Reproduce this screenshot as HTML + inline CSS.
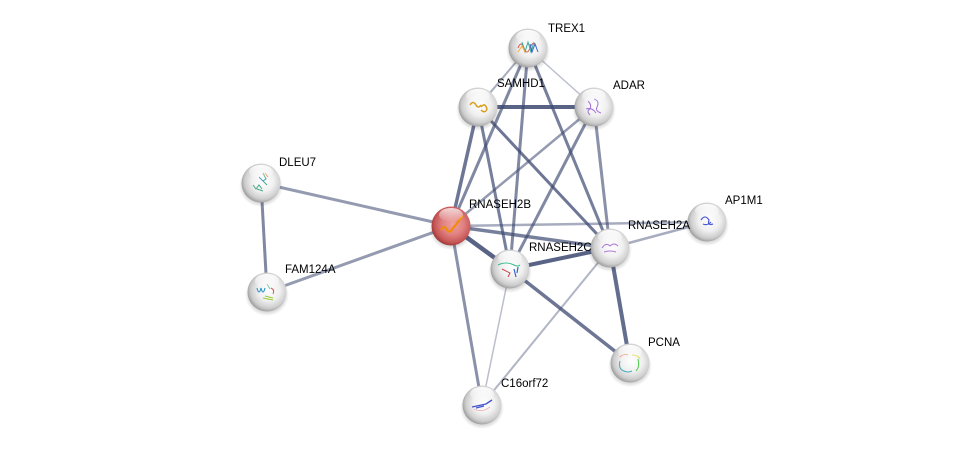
<!DOCTYPE html>
<html><head><meta charset="utf-8"><style>
html,body{margin:0;padding:0;background:#fff;}
svg{display:block;}
text{font-family:"Liberation Sans",sans-serif;font-size:11.5px;fill:#000;}
</style></head><body>
<svg width="975" height="450" viewBox="0 0 975 450" xmlns="http://www.w3.org/2000/svg">
<defs>
<radialGradient id="g" cx="0.55" cy="0.45" r="0.62">
<stop offset="0" stop-color="#ffffff"/>
<stop offset="0.45" stop-color="#f0f0f0"/>
<stop offset="0.75" stop-color="#cdcdcd"/>
<stop offset="0.92" stop-color="#9a9a9a"/>
<stop offset="1" stop-color="#6e6e6e"/>
</radialGradient>
<radialGradient id="r" cx="0.55" cy="0.45" r="0.62">
<stop offset="0" stop-color="#f0a0a0"/>
<stop offset="0.45" stop-color="#e08080"/>
<stop offset="0.75" stop-color="#c85858"/>
<stop offset="0.92" stop-color="#9c3535"/>
<stop offset="1" stop-color="#6a1e1e"/>
</radialGradient>
<linearGradient id="hl" x1="0" y1="0" x2="0" y2="1">
<stop offset="0" stop-color="#fff" stop-opacity="0.95"/>
<stop offset="1" stop-color="#fff" stop-opacity="0"/>
</linearGradient>
<radialGradient id="sh" cx="0.5" cy="0.5" r="0.5">
<stop offset="0.6" stop-color="#000" stop-opacity="0.3"/>
<stop offset="1" stop-color="#000" stop-opacity="0"/>
</radialGradient>
</defs>
<g stroke="#3c4870" stroke-linecap="butt" fill="none">
<line x1="478" y1="107" x2="594" y2="107" stroke-width="4" stroke-opacity="0.85"/>
<line x1="528" y1="48" x2="478" y2="107" stroke-width="2" stroke-opacity="0.45"/>
<line x1="528" y1="48" x2="594" y2="107" stroke-width="1.5" stroke-opacity="0.35"/>
<line x1="528" y1="48" x2="451" y2="226" stroke-width="3" stroke-opacity="0.65"/>
<line x1="528" y1="48" x2="510" y2="269" stroke-width="3" stroke-opacity="0.65"/>
<line x1="528" y1="48" x2="610" y2="248" stroke-width="3" stroke-opacity="0.7"/>
<line x1="478" y1="107" x2="451" y2="226" stroke-width="3.5" stroke-opacity="0.75"/>
<line x1="478" y1="107" x2="510" y2="269" stroke-width="3" stroke-opacity="0.7"/>
<line x1="478" y1="107" x2="610" y2="248" stroke-width="3" stroke-opacity="0.75"/>
<line x1="594" y1="107" x2="451" y2="226" stroke-width="2.5" stroke-opacity="0.55"/>
<line x1="594" y1="107" x2="510" y2="269" stroke-width="3" stroke-opacity="0.65"/>
<line x1="594" y1="107" x2="610" y2="248" stroke-width="3" stroke-opacity="0.6"/>
<line x1="451" y1="226" x2="261" y2="183" stroke-width="3" stroke-opacity="0.55"/>
<line x1="451" y1="226" x2="267" y2="292" stroke-width="3" stroke-opacity="0.55"/>
<line x1="261" y1="183" x2="267" y2="292" stroke-width="3" stroke-opacity="0.65"/>
<line x1="451" y1="226" x2="510" y2="269" stroke-width="4.5" stroke-opacity="0.85"/>
<line x1="451" y1="226" x2="610" y2="248" stroke-width="3.5" stroke-opacity="0.7"/>
<line x1="451" y1="226" x2="707" y2="222" stroke-width="2.5" stroke-opacity="0.45"/>
<line x1="451" y1="226" x2="482" y2="405" stroke-width="3" stroke-opacity="0.6"/>
<line x1="510" y1="269" x2="610" y2="248" stroke-width="4" stroke-opacity="0.85"/>
<line x1="510" y1="269" x2="630" y2="363" stroke-width="3.5" stroke-opacity="0.75"/>
<line x1="510" y1="269" x2="482" y2="405" stroke-width="1.5" stroke-opacity="0.35"/>
<line x1="610" y1="248" x2="707" y2="222" stroke-width="2.5" stroke-opacity="0.45"/>
<line x1="610" y1="248" x2="630" y2="363" stroke-width="4" stroke-opacity="0.8"/>
<line x1="610" y1="248" x2="482" y2="405" stroke-width="2" stroke-opacity="0.4"/>
</g>
<g>
<g transform="translate(528,48)"><ellipse cx="0" cy="3" rx="22" ry="21" fill="url(#sh)"/><circle r="19.5" fill="url(#g)"/><path d="M-10,0 q3,-8 6,0 t6,0 t6,-2" stroke="#d9534f" stroke-width="1" fill="none"/><path d="M-6,-6 l3,10 l3,-10 l3,10 l3,-10" stroke="#3a9" stroke-width="1" fill="none"/><path d="M2,-4 l2,8 l3,-8 l3,8" stroke="#36c" stroke-width="1" fill="none"/><path d="M-10,4 l4,-6 l3,6" stroke="#fa3" stroke-width="1" fill="none"/><ellipse cx="0" cy="-11" rx="12" ry="7" fill="url(#hl)"/></g>
<g transform="translate(478,107)"><ellipse cx="0" cy="3" rx="22" ry="21" fill="url(#sh)"/><circle r="19.5" fill="url(#g)"/><path d="M-8,-2 q3,-5 6,0 q2,4 5,0 M3,0 q4,-5 6,2 q-2,5 -6,1" stroke="#d9a020" stroke-width="1.5" fill="none"/><ellipse cx="0" cy="-11" rx="12" ry="7" fill="url(#hl)"/></g>
<g transform="translate(594,107)"><ellipse cx="0" cy="3" rx="22" ry="21" fill="url(#sh)"/><circle r="19.5" fill="url(#g)"/><path d="M-6,-6 q4,4 2,8 q-4,2 0,6 M0,-8 q6,2 3,8 q-2,4 4,6 M-8,2 q6,-2 10,4" stroke="#a070d8" stroke-width="1" fill="none"/><ellipse cx="0" cy="-11" rx="12" ry="7" fill="url(#hl)"/></g>
<g transform="translate(261,183)"><ellipse cx="0" cy="3" rx="22" ry="21" fill="url(#sh)"/><circle r="19.5" fill="url(#g)"/><path d="M2,-10 l3,6 l-3,2 l4,4 M-8,2 l3,4 l3,-4 l3,4 M-4,6 l6,2" stroke="#4a8" stroke-width="1" fill="none"/><path d="M4,-10 l3,4" stroke="#e83" stroke-width="1"/><path d="M-2,-6 l4,4" stroke="#49c" stroke-width="1"/><ellipse cx="0" cy="-11" rx="12" ry="7" fill="url(#hl)"/></g>
<g transform="translate(267,292)"><ellipse cx="0" cy="3" rx="22" ry="21" fill="url(#sh)"/><circle r="19.5" fill="url(#g)"/><path d="M-10,-4 q2,8 4,0 q2,8 4,0" stroke="#39c" stroke-width="1.2" fill="none"/><path d="M4,-4 q4,2 2,6" stroke="#d55" stroke-width="1" fill="none"/><path d="M-4,6 l10,2 M-2,4 l8,2" stroke="#9c3" stroke-width="1" fill="none"/><path d="M0,-8 l3,5" stroke="#6c9" stroke-width="1"/><ellipse cx="0" cy="-11" rx="12" ry="7" fill="url(#hl)"/></g>
<g transform="translate(451,226)"><ellipse cx="0" cy="3" rx="22" ry="21" fill="url(#sh)"/><circle r="19.5" fill="url(#r)"/><path d="M-10,4 q3,-6 6,0 q3,4 6,-2 M2,2 q4,-4 6,-8 l4,-4" stroke="#f08c00" stroke-width="2" fill="none"/><ellipse cx="0" cy="-11" rx="12" ry="7" fill="url(#hl)" opacity="0.8"/></g>
<g transform="translate(510,269)"><ellipse cx="0" cy="3" rx="22" ry="21" fill="url(#sh)"/><circle r="19.5" fill="url(#g)"/><path d="M-12,-4 q8,-4 16,0 q4,2 6,0" stroke="#3b8" stroke-width="1" fill="none"/><path d="M-8,0 l8,4 l-2,4" stroke="#c44" stroke-width="1" fill="none"/><path d="M4,0 l2,8 M8,-2 l-1,6" stroke="#36c" stroke-width="1.2" fill="none"/><ellipse cx="0" cy="-11" rx="12" ry="7" fill="url(#hl)"/></g>
<g transform="translate(610,248)"><ellipse cx="0" cy="3" rx="22" ry="21" fill="url(#sh)"/><circle r="19.5" fill="url(#g)"/><path d="M-8,0 q4,-6 8,-2 q4,-4 8,0 M-6,4 q6,-2 12,0" stroke="#b07ad8" stroke-width="1" fill="none"/><ellipse cx="0" cy="-11" rx="12" ry="7" fill="url(#hl)"/></g>
<g transform="translate(707,222)"><ellipse cx="0" cy="3" rx="22" ry="21" fill="url(#sh)"/><circle r="19.5" fill="url(#g)"/><path d="M-6,-2 q4,-6 8,0 q-2,6 4,4 M-4,2 q4,2 8,-2" stroke="#4a5ad8" stroke-width="1.2" fill="none"/><ellipse cx="0" cy="-11" rx="12" ry="7" fill="url(#hl)"/></g>
<g transform="translate(630,363)"><ellipse cx="0" cy="3" rx="22" ry="21" fill="url(#sh)"/><circle r="19.5" fill="url(#g)"/><path d="M-10,-6 q4,-4 8,-2" stroke="#e97" stroke-width="1" fill="none"/><path d="M2,-8 q6,0 8,4" stroke="#dd5" stroke-width="1" fill="none"/><path d="M8,-4 q2,8 -2,12" stroke="#5c5" stroke-width="1" fill="none"/><path d="M-10,-2 q-2,8 4,10 q4,2 8,0" stroke="#4ab" stroke-width="1" fill="none"/><ellipse cx="0" cy="-11" rx="12" ry="7" fill="url(#hl)"/></g>
<g transform="translate(482,405)"><ellipse cx="0" cy="3" rx="22" ry="21" fill="url(#sh)"/><circle r="19.5" fill="url(#g)"/><path d="M-10,2 l14,-3 l6,-4 M-6,3 l8,-2" stroke="#45c" stroke-width="1.4" fill="none"/><path d="M-8,4 q8,4 16,-2" stroke="#e99" stroke-width="0.6" fill="none"/><ellipse cx="0" cy="-11" rx="12" ry="7" fill="url(#hl)"/></g>
</g>
<g>
<text x="548" y="32">TREX1</text>
<text x="497" y="87">SAMHD1</text>
<text x="613" y="89">ADAR</text>
<text x="279" y="166">DLEU7</text>
<text x="469" y="208">RNASEH2B</text>
<text x="725" y="204">AP1M1</text>
<text x="628" y="229">RNASEH2A</text>
<text x="529" y="251">RNASEH2C</text>
<text x="285" y="273">FAM124A</text>
<text x="648" y="346">PCNA</text>
<text x="501" y="387">C16orf72</text>
</g>
</svg>
</body></html>
